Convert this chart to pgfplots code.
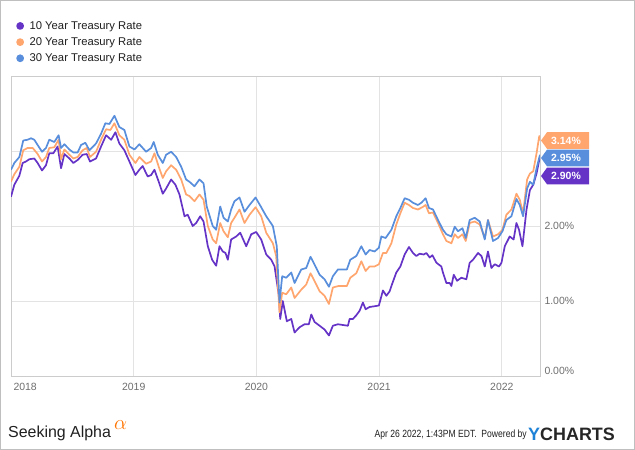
\documentclass[border=0pt]{standalone}
\usepackage{fontspec}
\setmainfont{Liberation Sans}
\usepackage{pgfplots}
\pgfplotsset{compat=1.18}
\usepackage{pgfplotstable}

\definecolor{tenY}{RGB}{101,52,199}
\definecolor{twentyY}{RGB}{255,165,110}
\definecolor{thirtyY}{RGB}{88,142,220}
\definecolor{ticktext}{RGB}{110,110,110}
\definecolor{ybrand}{RGB}{30,130,215}

% 10 year
\pgfplotstableread{
x y
2018.000 2.39
2018.027 2.55
2018.068 2.67
2018.095 2.84
2018.122 2.86
2018.149 2.89
2018.190 2.90
2018.217 2.84
2018.253 2.74
2018.285 2.81
2018.312 2.97
2018.345 2.97
2018.380 3.06
2018.408 2.77
2018.435 2.96
2018.476 2.90
2018.508 2.84
2018.543 2.88
2018.584 2.95
2018.617 2.96
2018.644 2.86
2018.693 2.90
2018.734 3.06
2018.775 3.21
2018.816 3.15
2018.851 3.25
2018.883 3.10
2018.924 3.01
2018.965 2.86
2019.014 2.68
2019.046 2.75
2019.073 2.80
2019.114 2.66
2019.142 2.68
2019.169 2.75
2019.204 2.59
2019.237 2.43
2019.264 2.50
2019.305 2.62
2019.340 2.55
2019.373 2.42
2019.414 2.13
2019.440 2.15
2019.481 2.00
2019.509 2.04
2019.542 2.13
2019.569 2.06
2019.604 1.73
2019.639 1.55
2019.672 1.47
2019.699 1.73
2019.726 1.66
2019.748 1.64
2019.767 1.55
2019.794 1.82
2019.835 1.86
2019.868 1.91
2019.917 1.73
2019.958 1.89
2019.998 1.92
2020.039 1.82
2020.080 1.62
2020.121 1.55
2020.148 1.46
2020.183 1.07
2020.194 0.76
2020.215 1.00
2020.248 0.73
2020.284 0.76
2020.311 0.58
2020.352 0.65
2020.392 0.69
2020.427 0.69
2020.447 0.82
2020.474 0.72
2020.515 0.67
2020.555 0.62
2020.591 0.54
2020.623 0.67
2020.664 0.69
2020.705 0.68
2020.746 0.67
2020.759 0.76
2020.786 0.76
2020.814 0.81
2020.841 0.87
2020.868 0.98
2020.890 0.89
2020.922 0.92
2020.963 0.93
2020.998 0.94
2021.031 1.14
2021.059 1.07
2021.086 1.13
2021.100 1.20
2021.140 1.38
2021.173 1.46
2021.208 1.62
2021.243 1.72
2021.276 1.64
2021.303 1.60
2021.330 1.63
2021.363 1.62
2021.385 1.64
2021.412 1.58
2021.434 1.61
2021.467 1.51
2021.507 1.46
2021.520 1.38
2021.548 1.24
2021.575 1.24
2021.589 1.20
2021.608 1.35
2021.635 1.27
2021.670 1.31
2021.711 1.29
2021.738 1.51
2021.765 1.55
2021.806 1.64
2021.834 1.60
2021.861 1.46
2021.887 1.66
2021.915 1.44
2021.942 1.49
2021.977 1.46
2021.997 1.51
2022.024 1.73
2022.064 1.86
2022.096 1.82
2022.119 2.04
2022.140 1.95
2022.168 1.73
2022.201 2.22
2022.229 2.48
2022.256 2.55
2022.283 2.70
2022.305 2.88
2022.311 2.90
}\tenyr

% 20 year
\pgfplotstableread{
x y
2018.000 2.59
2018.027 2.69
2018.068 2.79
2018.100 3.01
2018.135 3.04
2018.177 3.04
2018.217 2.96
2018.253 2.86
2018.285 2.92
2018.312 3.04
2018.353 3.05
2018.388 3.15
2018.408 2.89
2018.435 3.02
2018.476 2.95
2018.508 2.90
2018.543 2.92
2018.584 3.01
2018.617 3.04
2018.644 2.92
2018.693 2.99
2018.734 3.15
2018.775 3.29
2018.810 3.28
2018.843 3.37
2018.883 3.21
2018.924 3.15
2018.965 2.95
2019.014 2.84
2019.046 2.92
2019.101 2.83
2019.142 2.86
2019.169 2.97
2019.204 2.79
2019.237 2.64
2019.264 2.73
2019.305 2.81
2019.346 2.75
2019.387 2.62
2019.427 2.42
2019.454 2.40
2019.495 2.33
2019.536 2.42
2019.569 2.35
2019.604 2.00
2019.644 1.82
2019.672 1.77
2019.705 2.04
2019.732 1.93
2019.767 1.85
2019.794 2.04
2019.821 2.11
2019.862 2.22
2019.903 2.04
2019.944 2.15
2019.993 2.25
2020.039 2.13
2020.080 1.91
2020.134 1.77
2020.161 1.60
2020.188 0.85
2020.210 1.11
2020.243 1.09
2020.284 1.18
2020.311 1.04
2020.365 1.15
2020.406 1.22
2020.441 1.37
2020.488 1.22
2020.515 1.13
2020.555 1.07
2020.591 0.96
2020.623 1.18
2020.669 1.20
2020.737 1.20
2020.765 1.31
2020.814 1.37
2020.855 1.53
2020.890 1.40
2020.922 1.46
2020.963 1.46
2020.998 1.49
2021.031 1.64
2021.059 1.64
2021.100 1.77
2021.140 2.02
2021.173 2.17
2021.208 2.31
2021.243 2.28
2021.276 2.24
2021.316 2.22
2021.352 2.25
2021.379 2.28
2021.406 2.17
2021.439 2.18
2021.480 2.04
2021.520 1.89
2021.548 1.80
2021.589 1.77
2021.616 1.89
2021.643 1.84
2021.679 1.89
2021.706 1.80
2021.738 2.04
2021.779 2.06
2021.820 2.02
2021.861 1.84
2021.887 2.08
2021.928 1.86
2021.969 1.89
2022.005 1.95
2022.037 2.15
2022.078 2.22
2022.119 2.43
2022.146 2.35
2022.173 2.17
2022.206 2.62
2022.229 2.70
2022.256 2.73
2022.283 2.97
2022.305 3.20
2022.311 3.14
}\twentyyr

% 30 year
\pgfplotstableread{
x y
2018.000 2.75
2018.027 2.84
2018.068 2.92
2018.100 3.14
2018.135 3.15
2018.163 3.17
2018.190 3.15
2018.217 3.08
2018.253 2.99
2018.285 3.04
2018.312 3.15
2018.353 3.12
2018.388 3.21
2018.408 3.04
2018.435 3.09
2018.476 3.02
2018.508 2.98
2018.543 2.98
2018.571 3.08
2018.606 3.11
2018.639 3.01
2018.693 3.10
2018.734 3.23
2018.769 3.37
2018.802 3.36
2018.843 3.47
2018.883 3.32
2018.924 3.28
2018.965 3.06
2019.006 3.02
2019.046 3.09
2019.101 2.99
2019.142 3.04
2019.163 3.12
2019.196 2.95
2019.237 2.84
2019.264 2.95
2019.305 2.99
2019.346 2.92
2019.387 2.79
2019.427 2.62
2019.454 2.59
2019.495 2.53
2019.536 2.62
2019.569 2.57
2019.595 2.26
2019.644 2.00
2019.672 1.95
2019.705 2.26
2019.732 2.11
2019.767 2.06
2019.794 2.22
2019.821 2.33
2019.862 2.38
2019.903 2.19
2019.944 2.28
2019.993 2.38
2020.039 2.25
2020.080 2.13
2020.134 2.00
2020.166 1.73
2020.188 0.98
2020.210 1.33
2020.243 1.31
2020.284 1.38
2020.311 1.24
2020.365 1.42
2020.406 1.44
2020.441 1.59
2020.488 1.44
2020.515 1.35
2020.555 1.29
2020.591 1.19
2020.623 1.33
2020.664 1.42
2020.737 1.42
2020.765 1.55
2020.814 1.60
2020.855 1.73
2020.890 1.62
2020.922 1.68
2020.963 1.66
2020.998 1.71
2021.018 1.86
2021.053 1.84
2021.100 1.95
2021.140 2.13
2021.173 2.24
2021.208 2.37
2021.243 2.35
2021.276 2.31
2021.316 2.28
2021.344 2.31
2021.379 2.37
2021.406 2.24
2021.439 2.22
2021.480 2.08
2021.520 1.95
2021.548 1.89
2021.589 1.86
2021.616 1.99
2021.643 1.93
2021.679 1.97
2021.706 1.84
2021.738 2.08
2021.779 2.11
2021.820 2.06
2021.861 1.82
2021.887 2.08
2021.928 1.80
2021.969 1.84
2022.005 1.93
2022.037 2.08
2022.078 2.13
2022.119 2.36
2022.146 2.28
2022.173 2.13
2022.206 2.50
2022.229 2.59
2022.256 2.55
2022.283 2.77
2022.311 2.95
}\thirtyyr

\begin{document}
\begin{tikzpicture}
\useasboundingbox (0,0) rectangle (635bp,450bp);
\draw[black!25, line width=1bp] (0.5bp,0.5bp) rectangle (634.5bp,449.5bp);

\begin{axis}[
    at={(11bp,74bp)}, anchor=south west,
    width=529bp, height=300bp, scale only axis,
    xmin=2018, xmax=2022.311, ymin=0, ymax=4,
    axis line style={draw=black!20, line width=0.8bp},
    major tick length=0pt,
    grid=major,
    grid style={draw=black!11, line width=0.8bp},
    xtick={2019,2020,2021,2022},
    xticklabels={2019,2020,2021,2022},
    extra x ticks={2018},
    extra x tick labels={2018},
    extra x tick style={grid=none, xticklabel style={anchor=north west, xshift=-1bp}},
    xticklabel style={font=\fontsize{10.5}{12}\selectfont, text=ticktext, yshift=-4bp},
    ytick={1,2,3},
    yticklabels={1.00\%,2.00\%,},
    extra y ticks={0},
    extra y tick labels={0.00\%},
    extra y tick style={grid=none, yticklabel style={yshift=5bp}},
    yticklabel pos=right,
    yticklabel style={font=\fontsize{10.5}{12}\selectfont, text=ticktext, anchor=west, xshift=1bp},
    /pgf/number format/assume math mode=true,
    legend style={draw=none, fill=none, at={(0.004,1.195)}, anchor=north west,
        font=\fontsize{11.3}{13}\selectfont, text=black!88, row sep=3.6bp,
        nodes={inner sep=1.6bp}},
    legend cell align=left,
    legend image code/.code={\fill[#1] (2.5bp,0bp) circle (3bp); \path (9.5bp,0bp);},
    every axis plot/.append style={line width=1.7bp, line join=round},
]
\addplot[tenY] table[x=x, y=y] {\tenyr};
\addlegendentry{10 Year Treasury Rate}
\addplot[twentyY] table[x=x, y=y] {\twentyyr};
\addlegendentry{20 Year Treasury Rate}
\addplot[thirtyY] table[x=x, y=y] {\thirtyyr};
\addlegendentry{30 Year Treasury Rate}

\coordinate (b20) at (axis cs:2022.311,3.14);
\coordinate (b30) at (axis cs:2022.311,2.907);
\coordinate (b10) at (axis cs:2022.311,2.667);
\end{axis}

% end-value badges
\foreach \c/\col/\txt in {b20/twentyY/3.14\%, b30/thirtyY/2.95\%, b10/tenY/2.90\%}{
  \fill[\col] ([xshift=1bp]\c) -- ++(6bp,8.3bp) -- ++(42bp,0) -- ++(0,-16.6bp) -- ++(-42bp,0) -- cycle;
  \node[text=white, font=\bfseries\fontsize{10.5}{12}\selectfont] at ([xshift=26bp]\c) {\txt};
}

% footer
\node[anchor=west, text=black!88, font=\fontsize{16}{18}\selectfont, inner sep=0pt] at (8bp,17bp) {Seeking Alpha};
\node[anchor=west, text=orange!90!red, inner sep=0pt] at (114bp,25bp) {\fontsize{21}{22}\selectfont$\alpha$};
\node[anchor=east, text=black!88, inner sep=0pt] at (527bp,15bp)
  {\scalebox{0.82}[1]{\fontsize{10.5}{12}\selectfont Apr 26 2022, 1:43PM EDT.\ \ Powered by}};
\node[anchor=west, inner sep=0pt, font=\bfseries\fontsize{18}{20}\selectfont] at (528bp,16bp)
  {\textcolor{ybrand}{Y}\textcolor{black!85}{CHARTS}};
\end{tikzpicture}
\end{document}
